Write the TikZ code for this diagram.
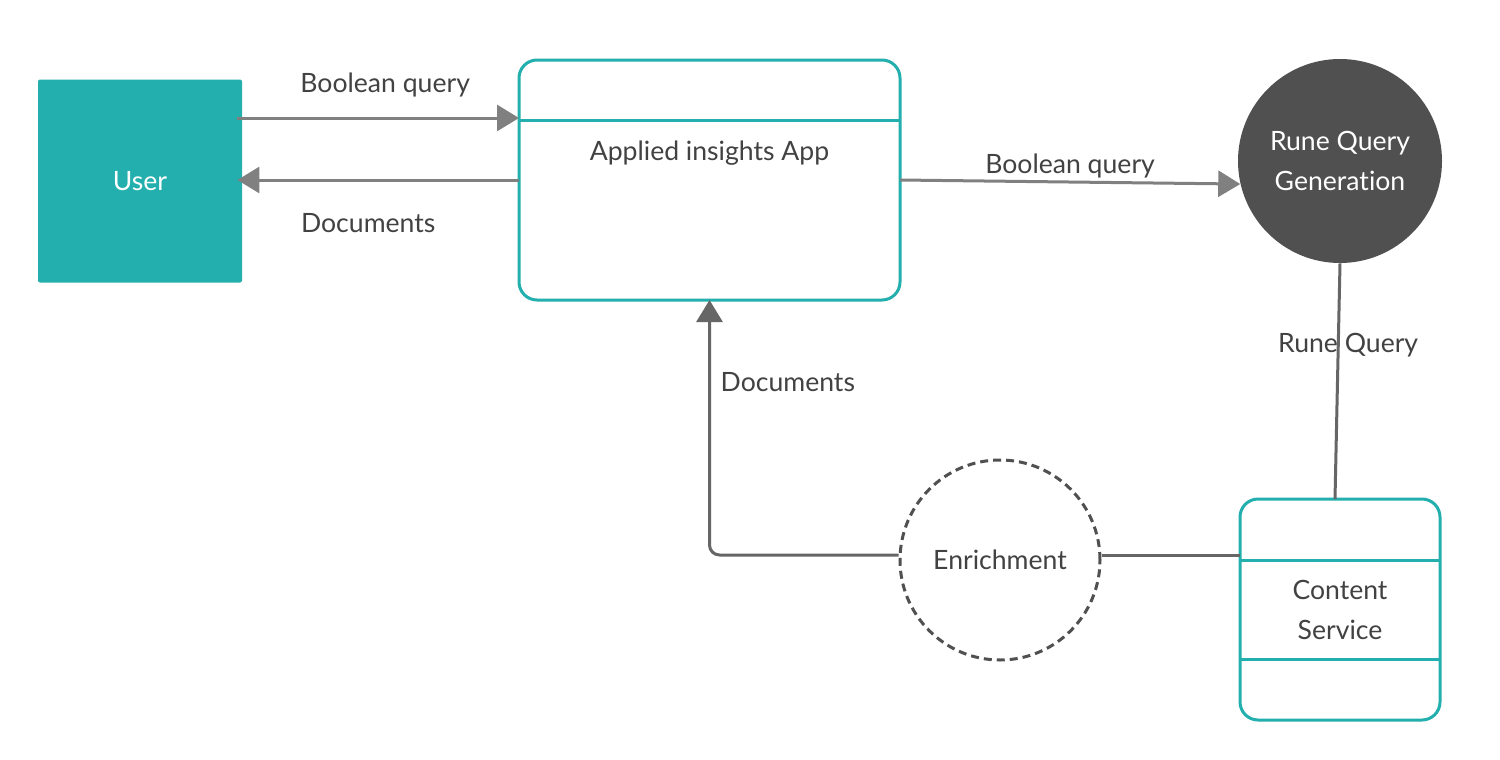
\documentclass[tikz,border=0pt]{standalone}
\usepackage{fontspec}
\setmainfont{Lato}[Ligatures=NoCommon]
\usetikzlibrary{arrows.meta,calc}

\definecolor{appteal}{RGB}{34,175,174}
\definecolor{darkdisc}{RGB}{80,80,80}
\definecolor{labelgray}{RGB}{66,66,66}
\definecolor{flowgray}{RGB}{128,128,128}
\definecolor{linkgray}{RGB}{102,102,102}

\begin{document}
\begin{tikzpicture}[x=0.5pt,y=-0.5pt,
		every node/.style={font=\fontsize{13.3}{20}\selectfont,text=labelgray},
		procbox/.style={rectangle,draw=appteal,line width=1.5pt,rounded corners=9pt,outer sep=0pt},
		flow/.style={draw=flowgray,line width=1.5pt,-{Triangle[length=11pt,width=13pt]}},
		link/.style={draw=linkgray,line width=1.5pt}]
		\path[use as bounding box,fill=white] (0,0) rectangle (1500,760);

		% Entities and processes
		\node (user) [rectangle,fill=appteal,rounded corners=1pt,minimum width=102pt,minimum height=101.5pt,text=white] at (140,181) {User};
		\node (app) [procbox,minimum width=190.5pt,minimum height=120pt] at (709.5,180) {};
		\node (apptext) at ([yshift=-46.5pt]app.north) {Applied insights App};
		\node (rune) [circle,fill=darkdisc,minimum size=102pt,inner sep=0pt,align=center,text=white] at (1340,161) {Rune Query\\Generation};
		\node (enr) [circle,draw=darkdisc,line width=1.5pt,dash pattern=on 4pt off 2.5pt,minimum size=100pt,inner sep=0pt] at (1000,560) {Enrichment};
		\node (cs) [procbox,minimum width=100pt,minimum height=110.5pt,align=center] at (1340,609.5) {Content\\Service};

		% Dividers
		\draw[appteal,line width=1.5pt] ($(app.north west)+(0,60)$) -- ($(app.north east)+(0,60)$);
		\draw[appteal,line width=1.5pt] ($(cs.north west)+(0,61)$) -- ($(cs.north east)+(0,61)$);
		\draw[appteal,line width=1.5pt] ($(cs.south west)+(0,-61)$) -- ($(cs.south east)+(0,-61)$);

		% Flows
		\draw[flow] ([xshift=-2.5pt,yshift=31.5pt]user.east) -- ([yshift=31.5pt]user.east -| app.west)
		node[midway,anchor=base,xshift=3.5pt,yshift=13pt] {Boolean query};
		\draw[flow] (app.west) -- ([xshift=-2.5pt]app.west -| user.east)
		node[midway,anchor=base,xshift=-5pt,yshift=-26pt] {Documents};
		\draw[flow] (app.east) -- (rune.193)
		node[midway,anchor=base,yshift=4.5pt] {Boolean query};
		\draw[link] (rune.south) -- ([xshift=-2.5pt]cs.north)
		node[pos=0.38,anchor=base,xshift=5pt] {Rune Query};
		\draw[link] ([yshift=2.5pt]enr.east) -- ([yshift=2.5pt]enr.east -| cs.west);
		\draw[link,rounded corners=5pt,-{Triangle[length=11pt,width=13pt]}] ([yshift=2.5pt]enr.west) -| (app.south)
		node[pos=0.82,anchor=base west,xshift=1.5pt] {Documents};
	\end{tikzpicture}
\end{document}
